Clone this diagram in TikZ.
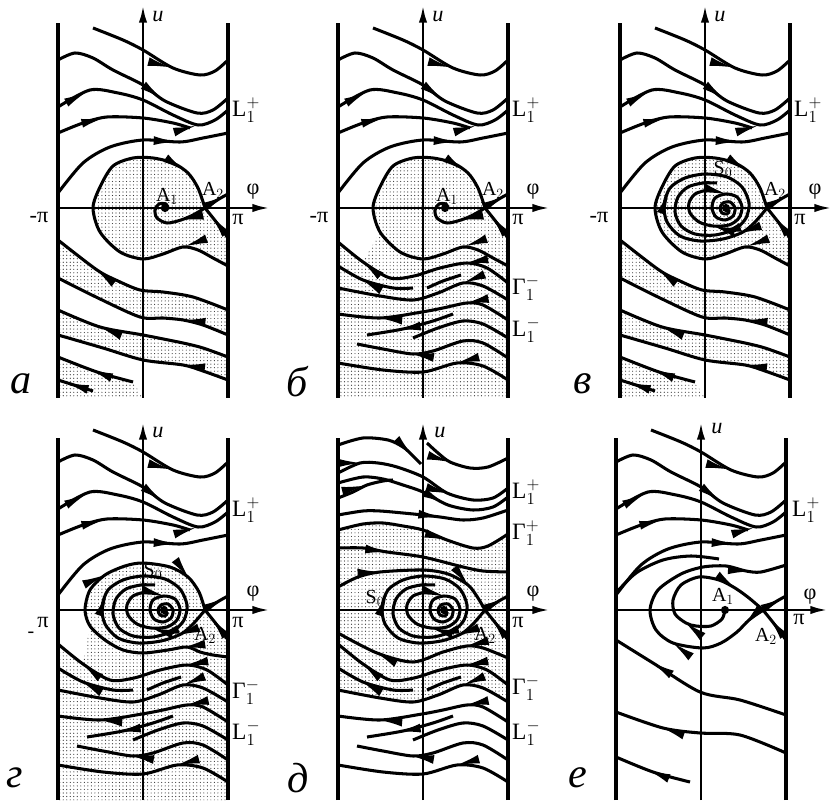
\documentclass[tikz,border=0pt]{standalone}
\usepackage{fontspec}
\setmainfont{Liberation Serif}
\usetikzlibrary{arrows.meta,decorations.markings,patterns}
\tikzset{
  wall/.style={line width=2.9pt},
  axisline/.style={line width=2.3pt, -{Latex[length=15pt,width=7pt]}},
  flow/.style={line width=2.6pt},
  arr/.style={postaction={decorate,decoration={markings,mark=at position #1 with {\arrow{Latex[length=22pt,width=7.5pt]}}}}},
  stipple/.style={pattern=dots, pattern color=black!80},
  fixpt/.style={circle, fill=black, inner sep=0pt, minimum size=7pt},
  axlbl/.style={font=\fontsize{19}{19}\selectfont, inner sep=0pt},
  smlbl/.style={font=\fontsize{17}{17}\selectfont, inner sep=0pt},
  biglbl/.style={font=\fontsize{20}{20}\selectfont, inner sep=0pt, anchor=west},
  tag/.style={font=\fontsize{36}{36}\selectfont\itshape, inner sep=0pt}
}
% smooth trajectory, arrow tips set on its polygon
\newcommand{\flowcurve}[2][]{%
  \draw[flow] plot[smooth] coordinates {#2};
  \path[flow,#1] plot coordinates {#2};}
\tikzset{
  pics/frame/.style 2 args={code={
    \draw[wall] (-85,-190) -- (-85,#1);
    \draw[wall] (85,-190) -- (85,#1);
    \draw[axisline] (0,-190) -- (0,#2);
    \draw[axisline] (-85,0) -- (127,0);
  }},
  pics/upperflow/.style={code={
    \flowcurve[arr=0.6]{(-50,180) (-20,168) (0,158) (30,140) (57,133) (72,137) (85,148)}
    \flowcurve[arr=0.63]{(-85,148) (-68,155) (-50,150) (-30,138) (0,123) (22,107) (54,95) (70,98) (85,110)}
    \flowcurve[arr=0.19,arr=0.82]{(-85,101) (-53,118) (-25,115) (0,108) (30,93) (55,83) (72,88) (85,98)}
    \flowcurve[arr=0.38]{(-85,75) (-60,85) (-36,91) (0,90) (30,85) (47,80)}
    \flowcurve[arr=0.74]{(-85,15) (-60,45) (-33,61) (0,68) (37,66) (60,70) (85,75)}
  }},
  pics/seps/.style={code={
    \flowcurve[arr=0.8]{(85,-30) (74,-15) (62,0)}
    \flowcurve[arr=0.97]{(62,0) (76,9) (85,14)}
  }},
  pics/loopab/.style={code={
    \flowcurve[arr=0.15,arr=0.88]{(85,-58) (70,-50) (55,-42) (40,-39) (20,-46) (0,-51) (-23,-44) (-43,-24) (-50,0) (-43,21) (-30,42) (-10,50) (10,50) (30,45) (45,35) (55,20) (62,0)}
  }},
  pics/loopshade/.style={code={
    \fill[stipple] plot[smooth] coordinates {(85,-58) (70,-50) (55,-42) (40,-39) (20,-46) (0,-51) (-23,-44) (-43,-24) (-50,0) (-43,21) (-30,42) (-10,50) (10,50) (30,45) (45,35) (55,20) (62,0)} -- (74,-15) -- (85,-30) -- cycle;
  }},
  pics/focus/.style={code={
    \flowcurve[arr=0.38]{(62,0) (50,-7) (38,-12) (24,-15) (14,-10) (12,-2) (16,4) (23,4) (25,0)}
  }},
  pics/cycles/.style={code={
    \flowcurve[arr=0.1,arr=0.37,arr=0.73]{(62,0) (50,-14) (38,-24) (18,-31) (-5,-33) (-25,-28) (-38,-14) (-41,3) (-35,20) (-20,30) (0,34) (22,31) (37,21) (44,5) (41,-10) (30,-21) (10,-27) (-10,-26) (-24,-18) (-30,-4) (-27,11) (-17,21) (-2,25) (12,25)}
    \flowcurve[arr=0.46,arr=0.74]{(21,0) (24,-3) (22,-6) (17,-5) (15,0) (18,5) (25,6) (30,0) (28,-8) (20,-12) (11,-9) (7,0) (10,10) (21,14) (32,11) (37,1) (34,-10) (24,-17) (8,-18) (-6,-14) (-15,-5) (-16,5) (-10,14) (2,18)}
  }},
  pics/lowerstrips/.style={code={
    \fill[stipple] plot[smooth] coordinates {(85,-102) (50,-89) (20,-84) (-3,-82) (-25,-73) (-46,-62) (-85,-32)} -- plot[smooth] coordinates {(-85,-70) (-45,-90) (-3,-109) (20,-110) (40,-112) (60,-117) (85,-127)} -- cycle;
    \fill[stipple] plot[smooth] coordinates {(85,-149) (60,-140) (40,-135) (0,-127) (-43,-119) (-85,-102)} -- plot[smooth] coordinates {(-85,-127) (-40,-140) (0,-152) (40,-157) (60,-163) (85,-172)} -- cycle;
    \fill[stipple] plot[smooth] coordinates {(-85,-149) (-46,-164) (-10,-174)} -- (0,-190) -- (-85,-190) -- cycle;
    \flowcurve[arr=0.76]{(85,-102) (50,-89) (20,-84) (-3,-82) (-25,-73) (-46,-62) (-85,-32)}
    \flowcurve[arr=0.28]{(85,-127) (60,-117) (40,-112) (20,-110) (-3,-109) (-45,-90) (-85,-70)}
    \flowcurve[arr=0.76]{(85,-149) (60,-140) (40,-135) (0,-127) (-43,-119) (-85,-102)}
    \flowcurve[arr=0.29]{(85,-172) (60,-163) (40,-157) (0,-152) (-40,-140) (-85,-127)}
    \flowcurve[arr=0.6]{(-10,-174) (-46,-164) (-85,-149)}
    \draw[flow,arr=0.85] (-50,-183) -- (-85,-172);
  }},
  pics/lowerwaves/.style={code={
    \flowcurve[arr=0.27,arr=0.85]{(85,-75) (64,-60) (44,-55) (17,-60) (-9,-68) (-33,-70) (-60,-54) (-85,-34)}
    \flowcurve{(38,-67) (20,-73) (4,-80)}
    \flowcurve[arr=0.7]{(-10,-80) (-30,-80) (-60,-72) (-85,-58)}
    \flowcurve[arr=0.29]{(85,-92) (60,-78) (40,-75) (15,-85) (-10,-92) (-43,-88) (-85,-80)}
    \flowcurve[arr=0.28,arr=0.78]{(85,-112) (60,-97) (44,-95) (20,-100) (-1,-104) (-43,-110) (-85,-106)}
    \flowcurve[arr=0.68]{(30,-106) (10,-113) (-20,-121) (-56,-127)}
    \flowcurve{(85,-130) (60,-116) (40,-113) (15,-120) (-10,-130)}
    \flowcurve[arr=0.67]{(85,-150) (60,-135) (40,-133) (10,-143) (-10,-146) (-40,-141) (-66,-136)}
    \flowcurve[arr=0.33]{(85,-172) (60,-158) (34,-155) (0,-164) (-40,-162) (-85,-155)}
  }}
}
\begin{document}
\begin{tikzpicture}[x=0.3mm,y=0.3mm]
\useasboundingbox (0,0) rectangle (833,800);

% panel a
\begin{scope}[shift={(143,592)}]
  \pic {loopshade};
  \pic {lowerstrips};
  \pic {frame={185}{203}};
  \pic {upperflow};
  \pic {loopab};
  \pic {seps};
  \pic {focus};
  \node[fixpt] (fa) at (22,0) {};
  \node[axlbl] (ua) at (15,191) {\itshape u};
  \node[axlbl] (phia) at (110,16) {φ};
  \node[axlbl] (pia) at (95,-12) {π};
  \node[axlbl] (mpia) at (-104,-10) {-π};
  \node[biglbl] (Lpa) at (89,98) {L$_1^+$};
  \node[smlbl] (Aonea) at (24,12) {A$_1$};
  \node[smlbl] (Atwoa) at (70,18) {A$_2$};
  \node[tag] (taga) at (-122,-176) {а};
\end{scope}

% panel b
\begin{scope}[shift={(423,592)}]
  \fill[stipple] plot[smooth] coordinates {(62,0) (55,20) (45,35) (30,45) (10,50) (-10,50) (-30,42) (-43,21) (-50,0) (-43,-24)} -- (-60,-54) -- (-85,-34) -- (-85,-190) -- (85,-190) -- (85,-30) -- (74,-15) -- cycle;
  \pic {frame={185}{203}};
  \pic {upperflow};
  \pic {loopab};
  \pic {seps};
  \pic {focus};
  \pic {lowerwaves};
  \node[fixpt] (fb) at (22,0) {};
  \node[axlbl] (ub) at (15,191) {\itshape u};
  \node[axlbl] (phib) at (110,16) {φ};
  \node[axlbl] (pib) at (95,-12) {π};
  \node[axlbl] (mpib) at (-104,-10) {-π};
  \node[biglbl] (Lpb) at (89,98) {L$_1^+$};
  \node[biglbl] (Gmb) at (89,-80) {Γ$_1^-$};
  \node[biglbl] (Lmb) at (89,-122) {L$_1^-$};
  \node[smlbl] (Aoneb) at (24,12) {A$_1$};
  \node[smlbl] (Atwob) at (70,18) {A$_2$};
  \node[tag] (tagb) at (-126,-174) {б};
\end{scope}

% panel v
\begin{scope}[shift={(705,592)}]
  \pic {loopshade};
  \pic {lowerstrips};
  \pic {frame={185}{203}};
  \pic {upperflow};
  \pic {loopab};
  \pic {seps};
  \pic {cycles};
  \node[fixpt] (fv) at (21,0) {};
  \node[axlbl] (uv) at (15,191) {\itshape u};
  \node[axlbl] (phiv) at (110,16) {φ};
  \node[axlbl] (piv) at (95,-12) {π};
  \node[axlbl] (mpiv) at (-106,-10) {-π};
  \node[biglbl] (Lpv) at (89,98) {L$_1^+$};
  \node[smlbl] (Szerov) at (18,39) {S$_0$};
  \node[smlbl] (Atwov) at (70,18) {A$_2$};
  \node[tag] (tagv) at (-122,-176) {в};
\end{scope}

% panel g
\begin{scope}[shift={(143,190)}]
  \fill[stipple] plot[smooth] coordinates {(62,0) (56,18) (45,33) (27,43) (0,47) (-18,44) (-38,35) (-53,20) (-58,0) (-53,-16)} -- (-60,-54) -- (-85,-34) -- (-85,-190) -- (85,-190) -- (85,-30) -- (74,-15) -- cycle;
  \pic {frame={172}{188}};
  \pic {upperflow};
  \flowcurve[arr=0.15,arr=0.63,arr=0.9]{(85,-47) (70,-45) (57,-42) (44,-37) (25,-40) (0,-43) (-20,-40) (-38,-30) (-53,-16) (-58,0) (-53,20) (-38,35) (-18,44) (0,47) (27,43) (45,33) (56,18) (62,0)}
  \pic {seps};
  \pic {cycles};
  \pic {lowerwaves};
  \node[fixpt] (fg) at (21,0) {};
  \node[axlbl] (ug) at (15,177) {\itshape u};
  \node[axlbl] (phig) at (110,16) {φ};
  \node[axlbl] (pig) at (95,-12) {π};
  \node[axlbl] (lpig) at (-100,-13) {π};
  \node[smlbl] (dashg) at (-112,-25) {-};
  \node[biglbl] (Lpg) at (89,100) {L$_1^+$};
  \node[biglbl] (Gmg) at (89,-82) {Γ$_1^-$};
  \node[biglbl] (Lmg) at (89,-123) {L$_1^-$};
  \node[smlbl] (Szerog) at (10,39) {S$_0$};
  \node[smlbl] (Atwog) at (62,-25) {A$_2$};
  \node[tag] (tagg) at (-128,-168) {г};
\end{scope}

% panel d
\begin{scope}[shift={(423,190)}]
  \fill[stipple] plot[smooth] coordinates {(-85,80) (-60,86) (-40,87) (-20,84) (0,80) (24,70) (50,62) (65,64) (85,76)} -- plot[smooth] coordinates {(85,-92) (60,-78) (40,-75) (15,-85) (-10,-92) (-43,-88) (-85,-80)} -- cycle;
  \pic {frame={172}{188}};
  \flowcurve[arr=0.9]{(-85,165) (-60,172) (-35,170) (-20,163) (-11,155) (-2,146)}
  \flowcurve[arr=0.36]{(4,167) (15,157) (27,148) (47,142) (65,143) (85,152)}
  \flowcurve[arr=0.15,arr=0.67]{(-85,137) (-63,147) (-45,147) (-26,143) (0,133) (24,117) (50,110) (70,112) (85,122)}
  \flowcurve[arr=0.64]{(-85,127) (-60,133) (-40,131) (-20,125) (0,118) (25,105) (50,100) (70,103) (85,113)}
  \flowcurve[arr=0.55]{(-85,112) (-70,118) (-56,125) (-40,129) (-30,130)}
  \flowcurve[arr=0.62]{(-85,95) (-60,99) (-43,99) (-20,97) (0,95) (17,93) (40,90) (60,92) (85,100)}
  \flowcurve[arr=0.65]{(-85,80) (-60,86) (-40,87) (-20,84) (0,80) (24,70) (50,62) (65,64) (85,76)}
  \flowcurve[arr=0.31]{(-85,62) (-60,62) (-36,58) (0,53) (40,43) (60,39) (85,38)}
  \flowcurve[arr=0.29,arr=0.84]{(-85,23) (-65,33) (-43,38) (0,40) (25,36) (45,25) (55,12) (62,0)}
  \pic {seps};
  \pic {cycles};
  \flowcurve[arr=0.26,arr=0.78]{(85,-48) (60,-38) (44,-36) (20,-42) (-10,-52) (-46,-43) (-85,-23)}
  \pic {lowerwaves};
  \node[fixpt] (fd) at (21,0) {};
  \node[axlbl] (ud) at (17,177) {\itshape u};
  \node[axlbl] (phid) at (110,16) {φ};
  \node[axlbl] (pid) at (95,-12) {π};
  \node[biglbl] (Lpd) at (89,118) {L$_1^+$};
  \node[biglbl] (Gpd) at (89,77) {Γ$_1^+$};
  \node[biglbl] (Gmd) at (89,-78) {Γ$_1^-$};
  \node[biglbl] (Lmd) at (89,-123) {L$_1^-$};
  \node[smlbl] (Szerod) at (-48,12) {S$_0$};
  \node[smlbl] (Atwod) at (62,-25) {A$_2$};
  \node[tag] (tagd) at (-125,-168) {д};
\end{scope}

% panel e
\begin{scope}[shift={(701,190)}]
  \pic {frame={172}{188}};
  \pic {upperflow};
  \flowcurve{(-85,17) (-65,37) (-38,50) (-10,54) (18,51)}
  \flowcurve[arr=0.09,arr=0.35,arr=0.89]{(62,0) (48,-10) (36,-22) (20,-33) (2,-38) (-28,-33) (-45,-20) (-51,0) (-43,20) (-20,36) (2,43) (25,44) (45,39) (60,38) (85,45)}
  \flowcurve[arr=0.28,arr=0.83]{(24,0) (21,-9) (10,-16) (-5,-16) (-15,-13) (-26,-4) (-28,10) (-20,25) (-2,33) (18,30) (34,22) (48,12) (62,0)}
  \pic {seps};
  \flowcurve[arr=0.79]{(85,-105) (39,-90) (-1,-82) (-48,-53) (-85,-30)}
  \flowcurve[arr=0.74]{(85,-143) (39,-125) (-1,-123) (-38,-118) (-85,-102)}
  \flowcurve[arr=0.6]{(-11,-172) (-48,-162) (-85,-147)}
  \node[fixpt] (fe) at (24,0) {};
  \node[axlbl] (ue) at (16,181) {\itshape u};
  \node[axlbl] (phie) at (109,13) {φ};
  \node[axlbl] (pie) at (98,-9) {π};
  \node[biglbl] (Lpe) at (91,100) {L$_1^+$};
  \node[smlbl] (Aonee) at (22,14) {A$_1$};
  \node[smlbl] (Atwoe) at (65,-26) {A$_2$};
  \node[tag] (tage) at (-123,-168) {е};
\end{scope}
\end{tikzpicture}
\end{document}
